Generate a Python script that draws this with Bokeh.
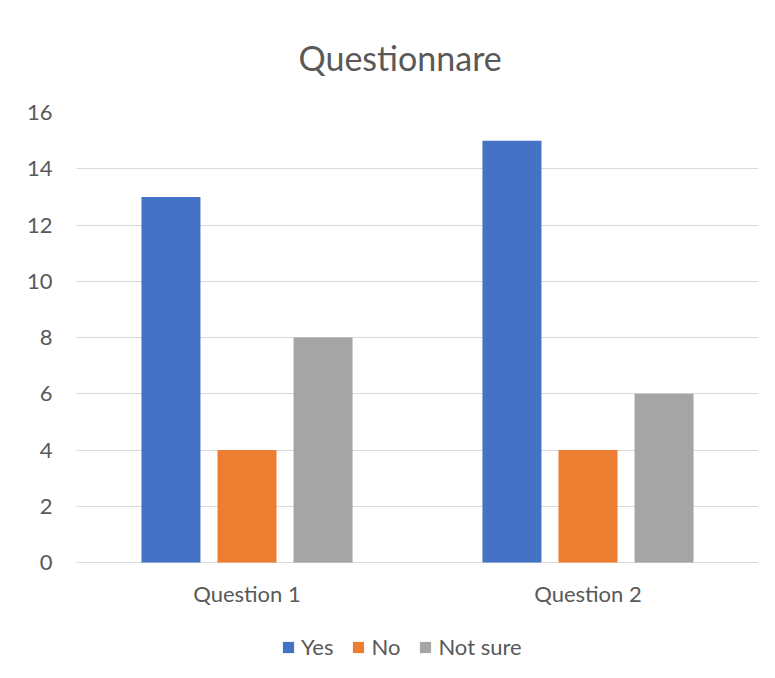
from bokeh.plotting import figure
from bokeh.models import ColumnDataSource, FactorRange, Legend, LegendItem, LabelSet, Range1d
from bokeh.core.properties import value
from bokeh.transform import dodge
from bokeh.embed import file_html
from bokeh.resources import INLINE

categories = ["Question 1", "Question 2"]
yes = [13, 15]
no = [4, 4]
not_sure = [8, 6]
series_names = ["Yes", "No", "Not sure"]
colors = ["#4472C4", "#ED7D31", "#A5A5A5"]
y_ticks = [0, 2, 4, 6, 8, 10, 12, 14, 16]

source = ColumnDataSource(dict(cat=categories, yes=yes, no=no, not_sure=not_sure))

FONT = "Lato"
TXT = "#595959"

# frame: data area 450px tall (0..16) plus 116px of room below for labels & legend
data_h = 450
below_h = 116
y_end = 16
y_start = -y_end * below_h / data_h

p = figure(
    x_range=FactorRange(*categories), y_range=Range1d(y_start, y_end),
    frame_width=682, frame_height=data_h + below_h, output_backend="svg", toolbar_location=None,
    min_border_left=76, min_border_right=17, min_border_top=112, min_border_bottom=0,
    title="Questionnare",
)
p.background_fill_color = "white"
p.border_fill_color = "white"
p.outline_line_color = None

p.title.align = "left"
p.title.text_font = FONT
p.title.text_font_size = "34px"
p.title.text_font_style = "normal"
p.title.text_color = TXT
p.title.standoff = 69
p.title.offset = 222

width = 0.173
offsets = [-0.223, 0.0, 0.223]
fields = ["yes", "no", "not_sure"]
renderers = []
for f, off, c in zip(fields, offsets, colors):
    r = p.vbar(x=dodge("cat", off, range=p.x_range), top=f, width=width, source=source,
               fill_color=c, line_color=None)
    renderers.append(r)

p.yaxis.ticker = y_ticks
p.yaxis.axis_line_color = None
p.yaxis.major_tick_line_color = None
p.yaxis.minor_tick_line_color = None
p.yaxis.major_label_standoff = 18
p.yaxis.major_label_text_font = FONT
p.yaxis.major_label_text_font_size = "22px"
p.yaxis.major_label_text_color = TXT

p.xaxis.visible = False
p.xgrid.grid_line_color = None
p.ygrid.grid_line_color = "#d9d9d9"
p.ygrid.grid_line_width = 1

cat_labels = LabelSet(x="cat", y=0, text="cat", source=source, y_offset=-31,
                      text_align="center", text_baseline="middle",
                      text_font=value(FONT), text_font_size=value("22px"), text_color=value(TXT))
p.add_layout(cat_labels)

legend = Legend(items=[LegendItem(label=n, renderers=[r]) for n, r in zip(series_names, renderers)],
                orientation="horizontal", location=(205, 18))
legend.border_line_color = None
legend.background_fill_alpha = 0
legend.label_text_font = FONT
legend.label_text_font_size = "22px"
legend.label_text_color = TXT
legend.glyph_width = 14
legend.glyph_height = 14
legend.label_standoff = 6
legend.spacing = 18
legend.margin = 0
legend.padding = 4
p.add_layout(legend)

open("out.html", "w").write(file_html(p, INLINE))
